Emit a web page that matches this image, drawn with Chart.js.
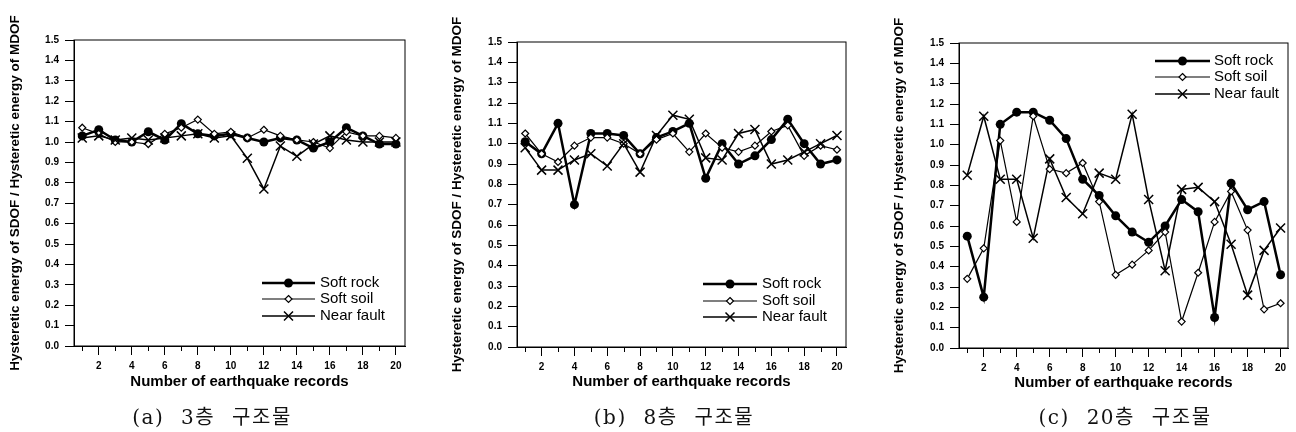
<!DOCTYPE html>
<html>
<head>
<meta charset="utf-8">
<script src="https://cdn.jsdelivr.net/npm/chart.js"></script>
<style>
body{margin:0;background:#fff;width:1296px;height:432px;position:relative;overflow:hidden}
.panel{position:absolute;top:0;height:432px}
.cap{position:absolute;top:404px;font-family:"DejaVu Serif","Noto Sans CJK KR",serif;font-size:20px;letter-spacing:1.5px;word-spacing:9px;line-height:26px;color:#111;transform:translateX(-50%);white-space:nowrap}
</style>
</head>
<body>
<div class="panel" style="left:0;width:420px"><canvas id="c3"></canvas></div>
<div class="panel" style="left:430px;width:420px"><canvas id="c8"></canvas></div>
<div class="panel" style="left:860px;width:436px"><canvas id="c20"></canvas></div>
<div class="cap" style="left:212px">(a) 3층 구조물</div>
<div class="cap" style="left:674px">(b) 8층 구조물</div>
<div class="cap" style="left:1125px">(c) 20층 구조물</div>
<script>
const records = [1,2,3,4,5,6,7,8,9,10,11,12,13,14,15,16,17,18,19,20]
const seriesNames = ['Soft rock', 'Soft soil', 'Near fault']

// 3-storey
const rock3  = [1.03,1.06,1.01,1.00,1.05,1.01,1.09,1.04,1.03,1.04,1.02,1.00,1.02,1.01,0.97,1.00,1.07,1.03,0.99,0.99]
const soil3  = [1.07,1.04,1.00,1.00,0.99,1.04,1.07,1.11,1.04,1.05,1.02,1.06,1.03,1.01,1.00,0.97,1.05,1.03,1.03,1.02]
const fault3 = [1.02,1.03,1.01,1.02,1.01,1.02,1.03,1.04,1.02,1.03,0.92,0.77,0.98,0.93,0.99,1.03,1.01,1.00,1.00,1.00]

// 8-storey
const rock8  = [1.01,0.95,1.10,0.70,1.05,1.05,1.04,0.95,1.03,1.06,1.10,0.83,1.00,0.90,0.94,1.02,1.12,1.00,0.90,0.92]
const soil8  = [1.05,0.95,0.91,0.99,1.03,1.03,1.00,0.95,1.02,1.05,0.96,1.05,0.98,0.96,0.99,1.06,1.09,0.94,0.99,0.97]
const fault8 = [0.98,0.87,0.87,0.92,0.95,0.89,1.00,0.86,1.04,1.14,1.12,0.93,0.92,1.05,1.07,0.90,0.92,0.96,1.00,1.04]

// 20-storey
const rock20  = [0.55,0.25,1.10,1.16,1.16,1.12,1.03,0.83,0.75,0.65,0.57,0.52,0.60,0.73,0.67,0.15,0.81,0.68,0.72,0.36]
const soil20  = [0.34,0.49,1.02,0.62,1.14,0.88,0.86,0.91,0.72,0.36,0.41,0.48,0.57,0.13,0.37,0.62,0.77,0.58,0.19,0.22]
const fault20 = [0.85,1.14,0.83,0.83,0.54,0.93,0.74,0.66,0.86,0.83,1.15,0.73,0.38,0.78,0.79,0.72,0.51,0.26,0.48,0.59]

const styles = [
    {lineWidth: 2.5, marker: 'circle', r: 4.5},
    {lineWidth: 1.2, marker: 'diamond', r: 3.5},
    {lineWidth: 1.5, marker: 'cross', r: 4.5}
]

function drawMarker(ctx, kind, x, y, r){
    ctx.save()
    ctx.strokeStyle = '#000'
    ctx.lineWidth = 1.2
    if(kind === 'circle'){
        ctx.fillStyle = '#000'
        ctx.beginPath(); ctx.arc(x, y, r, 0, Math.PI*2); ctx.fill()
    }else if(kind === 'diamond'){
        ctx.fillStyle = '#fff'
        ctx.beginPath()
        ctx.moveTo(x, y-r); ctx.lineTo(x+r, y); ctx.lineTo(x, y+r); ctx.lineTo(x-r, y); ctx.closePath()
        ctx.fill(); ctx.stroke()
    }else{
        ctx.lineWidth = 1.5
        ctx.beginPath()
        ctx.moveTo(x-r, y-r); ctx.lineTo(x+r, y+r)
        ctx.moveTo(x+r, y-r); ctx.lineTo(x-r, y+r)
        ctx.stroke()
    }
    ctx.restore()
}

// box around plot + short minor ticks at odd record numbers
const framePlugin = {
    id: 'frame',
    afterDatasetsDraw(chart){
        const {ctx, chartArea: a} = chart
        const xs = chart.scales.x
        ctx.save()
        ctx.strokeStyle = '#000'
        ctx.lineWidth = 1
        ctx.strokeRect(a.left, a.top, a.right - a.left, a.bottom - a.top)
        ctx.beginPath()
        xs.ticks.forEach(t => {
            if(t.value % 2 === 1){
                const px = Math.round(xs.getPixelForValue(t.value)) + 0.5
                ctx.moveTo(px, a.bottom); ctx.lineTo(px, a.bottom + 5)
            }
        })
        ctx.stroke()
        ctx.restore()
    }
}

const markerPlugin = {
    id: 'markers',
    afterDatasetsDraw(chart){
        const ctx = chart.ctx
        chart.data.datasets.forEach((ds, i) => {
            const meta = chart.getDatasetMeta(i)
            meta.data.forEach(p => drawMarker(ctx, styles[i].marker, p.x, p.y, styles[i].r))
        })
    }
}

const innerLegend = {
    id: 'innerLegend',
    afterDraw(chart, args, opts){
        const ctx = chart.ctx
        ctx.save()
        ctx.font = '15px "Liberation Sans", Arial, sans-serif'
        ctx.fillStyle = '#000'
        ctx.textBaseline = 'middle'
        seriesNames.forEach((name, i) => {
            const y = opts.ys[i]
            ctx.strokeStyle = '#000'
            ctx.lineWidth = styles[i].lineWidth
            ctx.beginPath(); ctx.moveTo(opts.x0, y); ctx.lineTo(opts.x1, y); ctx.stroke()
            drawMarker(ctx, styles[i].marker, (opts.x0 + opts.x1) / 2, y, styles[i].r)
            ctx.fillText(name, opts.tx, y)
        })
        ctx.restore()
    }
}

function makeChart(id, rock, soil, fault, xMax, pad, yWidth, xHeight, legend){
    const sets = [rock, soil, fault].map((vals, i) => ({
        label: seriesNames[i],
        data: records.map((r, k) => ({x: r, y: vals[k]})),
        borderColor: '#000',
        borderWidth: styles[i].lineWidth,
        pointRadius: 0,
        fill: false,
        tension: 0
    }))
    const tickFont = {family: '"Liberation Sans", Arial, sans-serif', size: 10, weight: 'bold'}
    new Chart(document.getElementById(id), {
        type: 'line',
        data: {datasets: sets},
        options: {
            responsive: true,
            maintainAspectRatio: false,
            animation: false,
            layout: {padding: pad},
            plugins: {
                legend: {display: false},
                tooltip: {enabled: false},
                innerLegend: legend
            },
            scales: {
                x: {
                    type: 'linear',
                    min: 0.5,
                    max: xMax,
                    afterBuildTicks: s => { s.ticks = s.ticks.filter(t => Number.isInteger(t.value)) },
                    afterFit: s => { s.height = xHeight },
                    ticks: {
                        stepSize: 1,
                        includeBounds: false,
                        autoSkip: false,
                        maxRotation: 0,
                        padding: 5,
                        color: '#000',
                        font: tickFont,
                        callback: v => (v % 2 === 0 ? String(v) : '')
                    },
                    grid: {
                        drawOnChartArea: false,
                        tickLength: 9,
                        tickColor: c => (c.tick && c.tick.value % 2 === 0 ? '#000' : 'rgba(0,0,0,0)')
                    },
                    border: {color: '#000', width: 1},
                    title: {
                        display: true,
                        text: 'Number of earthquake records',
                        color: '#000',
                        font: {family: '"Liberation Sans", Arial, sans-serif', size: 15, weight: 'bold'}
                    }
                },
                y: {
                    min: 0,
                    max: 1.5,
                    afterFit: s => { s.width = yWidth },
                    ticks: {
                        stepSize: 0.1,
                        padding: 6,
                        color: '#000',
                        font: tickFont,
                        callback: v => v.toFixed(1)
                    },
                    grid: {drawOnChartArea: false, color: '#000', tickLength: 9},
                    border: {color: '#000', width: 1},
                    title: {
                        display: true,
                        text: 'Hysteretic energy of SDOF / Hysteretic energy of MDOF',
                        color: '#000',
                        font: {family: '"Liberation Sans", Arial, sans-serif', size: 13.5, weight: 'bold'}
                    }
                }
            }
        },
        plugins: [framePlugin, markerPlugin, innerLegend]
    })
}

makeChart('c3', rock3, soil3, fault3, 20.55, {left: 3, top: 40, right: 15, bottom: 37}, 71, 49,
    {x0: 262, x1: 315, tx: 320, ys: [283, 299, 316]})
makeChart('c8', rock8, soil8, fault8, 20.55, {left: 15, top: 42, right: 4, bottom: 37}, 72, 48,
    {x0: 273, x1: 327, tx: 332, ys: [284, 301, 317]})
makeChart('c20', rock20, soil20, fault20, 20.45, {left: 27, top: 43, right: 8, bottom: 36}, 72, 48,
    {x0: 295, x1: 350, tx: 354, ys: [61, 77, 94]})
</script>
</body>
</html>
